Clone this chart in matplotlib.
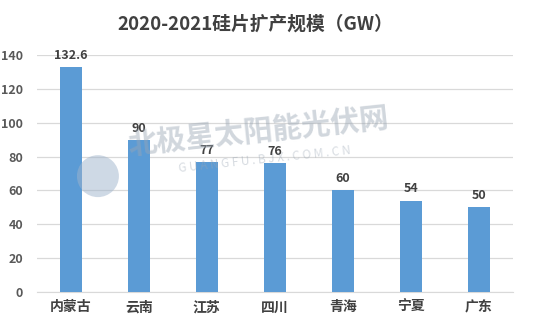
import matplotlib.pyplot as plt
from matplotlib.patches import Ellipse

plt.rcParams['font.family'] = ['Noto Sans CJK SC', 'DejaVu Sans']

provinces = ['内蒙古', '云南', '江苏', '四川', '青海', '宁夏', '广东']
capacity = [132.6, 90, 77, 76, 60, 54, 50]
yticks = [0, 20, 40, 60, 80, 100, 120, 140]

fig = plt.figure(figsize=(5.41, 3.25), dpi=100)
ax = fig.add_axes([0.068, 0.1015, 0.88, 0.7295])

x = range(len(provinces))
bars = ax.bar(x, capacity, width=0.32, color='#5b9bd5', zorder=3)
for xi, v in zip(x, capacity):
    ax.text(xi, v + 3, f'{v:g}', ha='center', va='bottom',
            fontsize=9, fontweight='bold', color='#404040', zorder=4)

ax.set_xlim(-0.5, len(provinces) - 0.5)
ax.set_ylim(0, 140)
ax.set_yticks(yticks)
ax.set_xticks(list(x))
ax.set_xticklabels(provinces, fontsize=10, fontweight='bold', color='#404040')
ax.tick_params(axis='y', labelsize=9, colors='#595959', length=0, pad=10)
ax.tick_params(axis='x', length=0, pad=6)
for lbl in ax.get_yticklabels():
    lbl.set_fontweight('bold')
ax.grid(axis='y', color='#d9d9d9', linewidth=0.9, zorder=0)
for s in ['top', 'right', 'left']:
    ax.spines[s].set_visible(False)
ax.spines['bottom'].set_color('#d9d9d9')

fig.text(0.472, 0.925, '2020-2021硅片扩产规模（GW）', ha='center', va='center',
         fontsize=13.5, fontweight='bold', color='#404040')

# watermark
fig.text(0.477, 0.594, '北极星太阳能光伏网', ha='center', va='center', rotation=6,
         fontsize=21, fontweight='bold', fontstyle='italic', color='#9aa6b4',
         alpha=0.45, zorder=5)
fig.text(0.49, 0.51, 'G U A N G F U . B J X . C O M . C N', ha='center', va='center',
         rotation=6, fontsize=8.5, color='#9aa6b4', alpha=0.4, zorder=5)
fig.patches.append(Ellipse((0.181, 0.458), 0.0776, 0.129, transform=fig.transFigure,
                           facecolor='#9fb4cc', alpha=0.5, edgecolor='none',
                           figure=fig, zorder=5))

fig.savefig('out.png', dpi=100)
